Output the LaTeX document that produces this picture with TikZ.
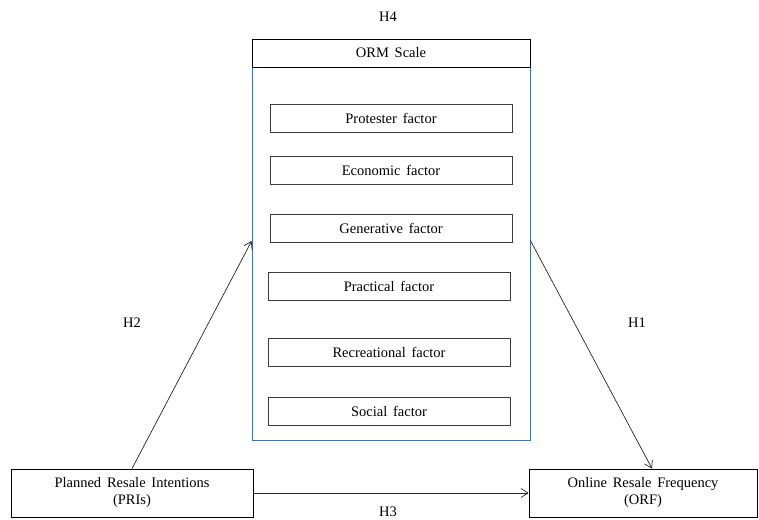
\documentclass[tikz,border=0pt]{standalone}
\usepackage{fontspec}
\setmainfont{Liberation Serif}
\newfontfamily\tnrfont{Liberation Serif}[WordSpace={1.6}]
\usetikzlibrary{arrows.meta}
\definecolor{frameblue}{RGB}{68,114,176}
\definecolor{boxgray}{RGB}{60,60,60}
\begin{document}
\begin{tikzpicture}[x=1pt,y=-1pt,
  every node/.style={font=\tnrfont\fontsize{14.5}{17}\selectfont},
  factorbox/.style={draw=boxgray,line width=0.9pt,minimum width=242pt,minimum height=28pt,inner sep=0pt},
  mainbox/.style={draw=black,line width=0.8pt,minimum height=48pt,inner sep=0pt,align=center},
  lbl/.style={inner sep=0pt},
  arr/.style={draw=black!85,line width=0.7pt,-{Straight Barb[length=7pt,width=9pt]}}]
\useasboundingbox (0,0) rectangle (759,519);
\node[draw=frameblue,line width=0.8pt,minimum width=278pt,minimum height=373pt,inner sep=0pt] (box) at (391,253.5) {};
\node[draw=black,line width=0.8pt,minimum width=278pt,minimum height=28pt,inner sep=0pt] (hdr) at (391,53) {ORM Scale};
\node[factorbox] (f1) at (391,118.5) {Protester factor};
\node[factorbox] (f2) at (391,170) {Economic factor};
\node[factorbox] (f3) at (391,228.5) {Generative factor};
\node[factorbox] (f4) at (389,286) {Practical factor};
\node[factorbox] (f5) at (389,352) {Recreational factor};
\node[factorbox] (f6) at (389,411) {Social factor};
\node[mainbox,minimum width=242pt] (pri) at (132,493) {Planned Resale Intentions\\(PRIs)};
\node[mainbox,minimum width=228pt] (orf) at (643,493) {Online Resale Frequency\\(ORF)};
\node[lbl] (h4) at (388,17) {H4};
\node[lbl] (h2) at (132,323) {H2};
\node[lbl] (h1) at (637,323) {H1};
\node[lbl] (h3) at (388,512) {H3};
\draw[arr] (pri.north) -- ([yshift=12.5pt]box.west);
\draw[arr] ([yshift=13pt]box.east) -- ([xshift=9pt]orf.north);
\draw[arr] (pri.east) -- (orf.west);
\end{tikzpicture}
\end{document}
